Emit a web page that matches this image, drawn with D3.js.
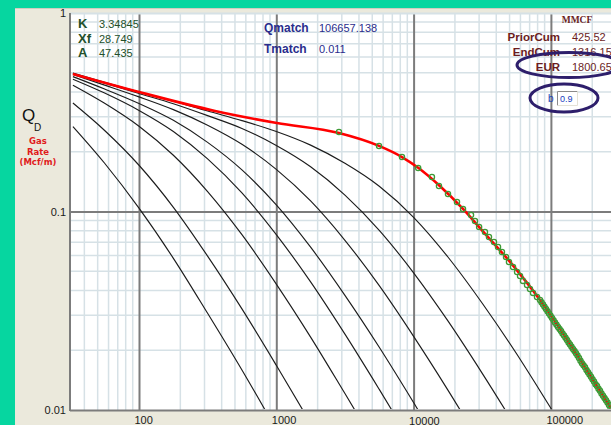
<!DOCTYPE html>
<html>
<head>
<meta charset="utf-8">
<script src="https://cdn.jsdelivr.net/npm/d3@7"></script>
<style>
  body { margin: 0; background: #06d6a0; overflow: hidden; }
  svg { display: block; font-family: "Liberation Sans", Arial, sans-serif; }
</style>
</head>
<body>
<svg id="chart" width="611" height="425"></svg>
<script>
// type curve times (shared) and qD values per curve
var times = [33, 56.2, 100, 178, 316, 562, 1000, 1778, 3162, 5623, 10000, 17783, 31623, 56234, 100000, 177828];
var tc1 = [0.268, 0.175, 0.104, 0.0581, 0.0307, 0.0159, 0.00798, 0.0040];
var tc2 = [0.352, 0.256, 0.171, 0.105, 0.0596, 0.0323, 0.0168, 0.00858, 0.00432];
var tc3 = [0.433, 0.351, 0.269, 0.192, 0.126, 0.0764, 0.0431, 0.0233, 0.0121, 0.00623];
var tc4 = [0.464, 0.395, 0.323, 0.253, 0.184, 0.124, 0.0765, 0.0442, 0.0241, 0.0127, 0.00658];
var tc5 = [0.478, 0.414, 0.350, 0.288, 0.223, 0.162, 0.108, 0.0661, 0.0378, 0.0207, 0.0109, 0.00563];
var tc6 = [0.490, 0.433, 0.378, 0.326, 0.272, 0.218, 0.163, 0.113, 0.0716, 0.0423, 0.0235, 0.0126, 0.00655];
var tc7 = [0.496, 0.443, 0.393, 0.349, 0.304, 0.262, 0.215, 0.168, 0.121, 0.0804, 0.0491, 0.0281, 0.0153, 0.00809];
var tc8 = [0.499, 0.447, 0.400, 0.360, 0.321, 0.287, 0.253, 0.216, 0.175, 0.134, 0.0935, 0.0590, 0.0345, 0.0192, 0.0102, 0.00538];

// matched curve (red)
var fitT = [33, 100, 358, 1010, 2860, 5600, 8230, 10800, 15600, 22900, 30000, 50400, 83300, 150000, 274000];
var fitQ = [0.493, 0.400, 0.321, 0.279, 0.2485, 0.214, 0.188, 0.166, 0.134, 0.103, 0.0835, 0.0557, 0.0358, 0.0196, 0.0102];

// production data (green circles)
var dataT = [2860, 5600, 8230, 10800, 13600, 15300, 17800, 20700, 22900, 26200,
  28000, 30000, 33100, 35400, 38500, 41200, 44000, 47100, 49500, 53000,
  56700, 59600, 62600, 67000, 70400, 74100, 79200, 83300,
  87600, 92100, 96900, 101900, 107100, 112700, 118500, 124600, 131000, 137800,
  144900, 152300, 160200, 168400, 177200, 186300, 195900, 206000, 216700, 227800,
  239600, 251900, 264900, 278600];
var dataQ = [0.2515, 0.2138, 0.1882, 0.1656, 0.1492, 0.1344, 0.1225, 0.1116, 0.1029, 0.0960,
  0.0896, 0.0835, 0.0788, 0.0744, 0.0702, 0.0662, 0.0625, 0.0590, 0.0557, 0.0525,
  0.0496, 0.0473, 0.0447, 0.0426, 0.0407, 0.0389, 0.0371, 0.0358,
  0.0340, 0.0323, 0.0306, 0.0291, 0.0276, 0.0262, 0.0250, 0.0237, 0.0225, 0.0214,
  0.0203, 0.0193, 0.0183, 0.0172, 0.0164, 0.0155, 0.0147, 0.0139, 0.0132, 0.0125,
  0.0118, 0.0112, 0.0106, 0.0100];
// the dense late-time points in between
var tailT = [85400, 89800, 94500, 99400, 104500, 109900, 115600, 121500, 127800, 134400,
  141300, 148600, 156200, 164200, 172700, 181700, 191000, 200900, 211300, 222200,
  233600, 245700, 258300, 271700];
var tailQ = [0.0349, 0.0331, 0.0314, 0.0298, 0.0283, 0.0269, 0.0256, 0.0243, 0.0231, 0.0219,
  0.0208, 0.0198, 0.0188, 0.0177, 0.0168, 0.0159, 0.0151, 0.0143, 0.0135, 0.0128,
  0.0121, 0.0115, 0.0109, 0.0103];

var xMajor = [100, 1000, 10000, 100000];
var yMajor = [1, 0.1, 0.01];
var yLabels = ['1', '0.1', '0.01'];

var fitLabels = ['K', 'Xf', 'A'];
var fitValues = ['3.34845', '28.749', '47.435'];
var matchLabels = ['Qmatch', 'Tmatch'];
var matchValues = ['106657.138', '0.011'];
var cumLabels = ['PriorCum', 'EndCum', 'EUR'];
var cumValues = ['425.52', '1316.15', '1800.65'];
var bValue = '0.9';

var plotL = 70, plotT = 13, plotB = 410, plotR = 611;

var svg = d3.select('#chart');

// frame
svg.append('rect').attr('x', 15).attr('y', 8).attr('width', 596).attr('height', 417).attr('fill', '#ebe9dc');
svg.append('line').attr('x1', 15).attr('x2', 611).attr('y1', 8.5).attr('y2', 8.5).attr('stroke', '#cfcdc0');
svg.append('rect').attr('x', plotL).attr('y', plotT).attr('width', plotR - plotL).attr('height', plotB - plotT).attr('fill', '#fff');

var x = d3.scaleLog().domain([Math.pow(10, 1.5), Math.pow(10, 5.5)]).range([70.35, 619.55]);
var y = d3.scaleLog().domain([0.01, 1]).range([plotB, plotT]);

function isDecade(v){ return Math.abs(Math.log10(v) - Math.round(Math.log10(v))) < 1e-9; }

// minor grid
var grid = svg.append('g').attr('class', 'grid');
grid.selectAll('.vminor').data(x.ticks().filter(function(d){ return !isDecade(d); }))
  .enter().append('line').attr('class', 'vminor')
  .attr('x1', function(d){ return x(d); }).attr('x2', function(d){ return x(d); })
  .attr('y1', plotT).attr('y2', plotB)
  .attr('stroke', '#d6e1e6').attr('stroke-width', 1.5);
grid.selectAll('.hminor').data(y.ticks().filter(function(d){ return !isDecade(d); }))
  .enter().append('line').attr('class', 'hminor')
  .attr('x1', plotL).attr('x2', plotR)
  .attr('y1', function(d){ return y(d); }).attr('y2', function(d){ return y(d); })
  .attr('stroke', '#d6e1e6').attr('stroke-width', 1.5);

// major grid + labels through axes
var xAxis = d3.axisBottom(x).tickValues(xMajor).tickSize(-(plotB - plotT)).tickFormat(d3.format('d'));
var xg = svg.append('g').attr('class', 'xAxis').attr('transform', 'translate(0,' + plotB + ')').call(xAxis);
xg.select('.domain').remove();
xg.selectAll('.tick line').attr('stroke', '#7c7c7c').attr('stroke-width', 2);
xg.selectAll('.tick text')
  .attr('text-anchor', 'start').attr('x', -5)
  .attr('y', function(d){ return d === 10000 ? 14.5 : 13.5; }).attr('dy', 0)
  .attr('fill', '#1a1a1a').style('font-size', '11px').style('font-family', '"Liberation Sans", Arial, sans-serif');

var yAxis = d3.axisLeft(y).tickValues(yMajor).tickSize(-(plotR - plotL)).tickFormat(function(d, i){ return yLabels[i]; });
var yg = svg.append('g').attr('class', 'yAxis').attr('transform', 'translate(' + plotL + ',0)').call(yAxis);
yg.select('.domain').remove();
yg.selectAll('.tick line')
  .attr('stroke', function(d){ return d === 1 ? '#d6e1e6' : '#7c7c7c'; })
  .attr('stroke-width', 2);
yg.selectAll('.tick text').attr('x', -4).attr('dy', '0.35em')
  .attr('fill', '#1a1a1a').style('font-size', '11px').style('font-family', '"Liberation Sans", Arial, sans-serif');

svg.append('line').attr('x1', plotL).attr('x2', plotL).attr('y1', plotT).attr('y2', plotB + 1)
  .attr('stroke', '#7c7c7c').attr('stroke-width', 2);

// curves
svg.append('clipPath').attr('id', 'plotClip')
  .append('rect').attr('x', plotL + 1).attr('y', plotT).attr('width', plotR - plotL).attr('height', plotB - plotT - 1);

var line = d3.line()
  .x(function(d){ return x(d[0]); })
  .y(function(d){ return y(d[1]); })
  .curve(d3.curveMonotoneX);

var typeCurves = [tc1, tc2, tc3, tc4, tc5, tc6, tc7, tc8].map(function(qs){
  return qs.map(function(q, i){ return [times[i], q]; });
});

var plot = svg.append('g').attr('clip-path', 'url(#plotClip)');
plot.selectAll('.typeCurve').data(typeCurves).enter().append('path')
  .attr('class', 'typeCurve')
  .attr('d', line)
  .attr('fill', 'none').attr('stroke', '#1c1c1c').attr('stroke-width', 1.15);

plot.append('path')
  .datum(fitT.map(function(t, i){ return [t, fitQ[i]]; }))
  .attr('d', line)
  .attr('fill', 'none').attr('stroke', '#ff0000').attr('stroke-width', 2.6);

var points = dataT.map(function(t, i){ return [t, dataQ[i]]; })
  .concat(tailT.map(function(t, i){ return [t, tailQ[i]]; }));
plot.selectAll('.pt').data(points)
  .enter().append('circle').attr('class', 'pt')
  .attr('cx', function(d){ return x(d[0]); })
  .attr('cy', function(d){ return y(d[1]); })
  .attr('r', 2.6)
  .attr('fill', 'none').attr('stroke', '#3c9a36').attr('stroke-width', 1.3);

// fit parameters (top left)
var fitG = svg.append('g').attr('fill', '#22502a');
fitLabels.forEach(function(l, i){
  var yy = 28 + i * 14.5;
  fitG.append('text').attr('x', 78).attr('y', yy).style('font-size', '13px').style('font-weight', 'bold').text(l);
  fitG.append('text').attr('x', 99).attr('y', yy).style('font-size', '11px').text(fitValues[i]);
});

// match values
var matchG = svg.append('g').attr('fill', '#2a2d8c');
matchLabels.forEach(function(l, i){
  var yy = 32 + i * 21;
  matchG.append('text').attr('x', 264).attr('y', yy).style('font-size', '12px').style('font-weight', 'bold').text(l);
  matchG.append('text').attr('x', 319).attr('y', yy).style('font-size', '11px').text(matchValues[i]);
});

// cumulative block
var cumG = svg.append('g').attr('fill', '#6b1d1d');
cumG.append('text').attr('x', 577).attr('y', 23).attr('text-anchor', 'middle')
  .style('font-size', '9.5px').style('font-weight', 'bold').style('font-family', '"Liberation Serif", serif').text('MMCF');
cumLabels.forEach(function(l, i){
  var yy = 41 + i * 15;
  cumG.append('text').attr('x', 560).attr('y', yy).attr('text-anchor', 'end').style('font-size', '11.5px').style('font-weight', 'bold').text(l);
  cumG.append('text').attr('x', 572).attr('y', yy).style('font-size', '11px').text(cumValues[i]);
});

// b input
svg.append('text').attr('x', 548).attr('y', 102).attr('fill', '#2040b0').style('font-size', '10px').text('b');
svg.append('rect').attr('x', 557).attr('y', 91).attr('width', 21).attr('height', 15).attr('fill', '#fff');
svg.append('path').attr('d', 'M557.5,105.5V91.5H577.5').attr('fill', 'none').attr('stroke', '#8a8a8a');
svg.append('path').attr('d', 'M557.5,105.5H577.5V91.5').attr('fill', 'none').attr('stroke', '#e4e2d6');
svg.append('text').attr('x', 560).attr('y', 102).attr('fill', '#2040c0').style('font-size', '9px').text(bValue);

// highlight ellipses
svg.append('ellipse').attr('cx', 569).attr('cy', 65).attr('rx', 52).attr('ry', 12.5)
  .attr('fill', 'none').attr('stroke', '#2d1e6b').attr('stroke-width', 3);
svg.append('ellipse').attr('cx', 564).attr('cy', 98).attr('rx', 34).attr('ry', 14)
  .attr('fill', 'none').attr('stroke', '#2d1e6b').attr('stroke-width', 3);

// y axis title
svg.append('text').attr('x', 22).attr('y', 121).attr('fill', '#111').style('font-size', '17px').text('Q');
svg.append('text').attr('x', 34).attr('y', 131).attr('fill', '#111').style('font-size', '10px').text('D');
var titleG = svg.append('g').attr('fill', '#e01b1b').attr('text-anchor', 'middle')
  .style('font-family', '"DejaVu Sans", sans-serif').style('font-size', '8.5px').style('font-weight', 'bold');
['Gas', 'Rate', '(Mcf/m)'].forEach(function(t, i){
  titleG.append('text').attr('x', 38).attr('y', 144 + i * 10.5).text(t);
});
</script>
</body>
</html>
